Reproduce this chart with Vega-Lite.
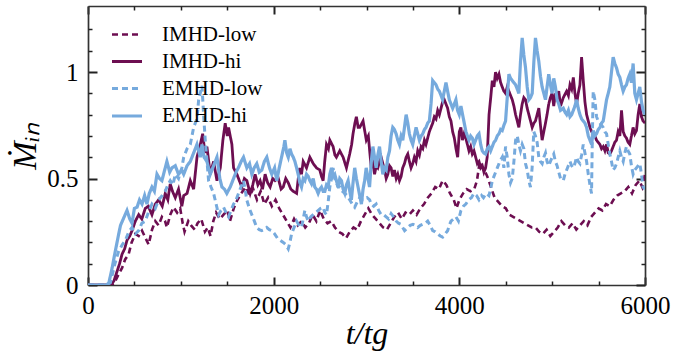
{
  "$schema": "https://vega.github.io/schema/vega-lite/v6.json",
  "width": 557,
  "height": 279,
  "autosize": {"type": "none"},
  "padding": {"left": 88, "top": 6, "right": 33, "bottom": 76},
  "background": "white",
  "config": {
    "font": "Liberation Serif",
    "view": {"stroke": null},
    "axis": {"grid": false, "domainColor": "#333333", "domainWidth": 1.7, "tickColor": "#222222", "labelColor": "#000000", "titleColor": "#000000", "titleFontWeight": "normal"}
  },
  "data": {"values": [
    {"s":"IMHD-low","t":0,"v":0},{"s":"IMHD-low","t":100,"v":0},{"s":"IMHD-low","t":200,"v":0},{"s":"IMHD-low","t":260,"v":0},{"s":"IMHD-low","t":295,"v":0.02},{"s":"IMHD-low","t":330,"v":0.05},{"s":"IMHD-low","t":367,"v":0.08},{"s":"IMHD-low","t":400,"v":0.12},{"s":"IMHD-low","t":438,"v":0.145},{"s":"IMHD-low","t":470,"v":0.2},{"s":"IMHD-low","t":510,"v":0.24},{"s":"IMHD-low","t":546,"v":0.23},{"s":"IMHD-low","t":582,"v":0.255},{"s":"IMHD-low","t":620,"v":0.22},{"s":"IMHD-low","t":653,"v":0.19},{"s":"IMHD-low","t":690,"v":0.26},{"s":"IMHD-low","t":725,"v":0.3},{"s":"IMHD-low","t":760,"v":0.28},{"s":"IMHD-low","t":796,"v":0.32},{"s":"IMHD-low","t":830,"v":0.3},{"s":"IMHD-low","t":850,"v":0.27},{"s":"IMHD-low","t":886,"v":0.33},{"s":"IMHD-low","t":922,"v":0.365},{"s":"IMHD-low","t":960,"v":0.34},{"s":"IMHD-low","t":993,"v":0.36},{"s":"IMHD-low","t":1020,"v":0.29},{"s":"IMHD-low","t":1040,"v":0.25},{"s":"IMHD-low","t":1080,"v":0.3},{"s":"IMHD-low","t":1110,"v":0.28},{"s":"IMHD-low","t":1150,"v":0.26},{"s":"IMHD-low","t":1180,"v":0.29},{"s":"IMHD-low","t":1220,"v":0.31},{"s":"IMHD-low","t":1260,"v":0.25},{"s":"IMHD-low","t":1290,"v":0.27},{"s":"IMHD-low","t":1320,"v":0.23},{"s":"IMHD-low","t":1350,"v":0.3},{"s":"IMHD-low","t":1380,"v":0.34},{"s":"IMHD-low","t":1420,"v":0.31},{"s":"IMHD-low","t":1460,"v":0.33},{"s":"IMHD-low","t":1500,"v":0.35},{"s":"IMHD-low","t":1530,"v":0.3},{"s":"IMHD-low","t":1570,"v":0.36},{"s":"IMHD-low","t":1610,"v":0.4},{"s":"IMHD-low","t":1650,"v":0.43},{"s":"IMHD-low","t":1700,"v":0.46},{"s":"IMHD-low","t":1740,"v":0.42},{"s":"IMHD-low","t":1780,"v":0.45},{"s":"IMHD-low","t":1820,"v":0.4},{"s":"IMHD-low","t":1860,"v":0.44},{"s":"IMHD-low","t":1900,"v":0.38},{"s":"IMHD-low","t":1940,"v":0.41},{"s":"IMHD-low","t":1980,"v":0.37},{"s":"IMHD-low","t":2020,"v":0.4},{"s":"IMHD-low","t":2060,"v":0.36},{"s":"IMHD-low","t":2100,"v":0.33},{"s":"IMHD-low","t":2140,"v":0.3},{"s":"IMHD-low","t":2180,"v":0.27},{"s":"IMHD-low","t":2220,"v":0.31},{"s":"IMHD-low","t":2260,"v":0.28},{"s":"IMHD-low","t":2300,"v":0.3},{"s":"IMHD-low","t":2340,"v":0.27},{"s":"IMHD-low","t":2380,"v":0.29},{"s":"IMHD-low","t":2420,"v":0.33},{"s":"IMHD-low","t":2460,"v":0.3},{"s":"IMHD-low","t":2500,"v":0.35},{"s":"IMHD-low","t":2540,"v":0.31},{"s":"IMHD-low","t":2580,"v":0.29},{"s":"IMHD-low","t":2620,"v":0.3},{"s":"IMHD-low","t":2660,"v":0.27},{"s":"IMHD-low","t":2700,"v":0.25},{"s":"IMHD-low","t":2740,"v":0.24},{"s":"IMHD-low","t":2780,"v":0.22},{"s":"IMHD-low","t":2820,"v":0.25},{"s":"IMHD-low","t":2860,"v":0.27},{"s":"IMHD-low","t":2900,"v":0.26},{"s":"IMHD-low","t":2940,"v":0.3},{"s":"IMHD-low","t":2980,"v":0.33},{"s":"IMHD-low","t":3020,"v":0.36},{"s":"IMHD-low","t":3060,"v":0.33},{"s":"IMHD-low","t":3100,"v":0.31},{"s":"IMHD-low","t":3140,"v":0.29},{"s":"IMHD-low","t":3180,"v":0.27},{"s":"IMHD-low","t":3220,"v":0.26},{"s":"IMHD-low","t":3260,"v":0.29},{"s":"IMHD-low","t":3300,"v":0.32},{"s":"IMHD-low","t":3340,"v":0.34},{"s":"IMHD-low","t":3380,"v":0.31},{"s":"IMHD-low","t":3420,"v":0.34},{"s":"IMHD-low","t":3460,"v":0.33},{"s":"IMHD-low","t":3500,"v":0.35},{"s":"IMHD-low","t":3540,"v":0.33},{"s":"IMHD-low","t":3580,"v":0.36},{"s":"IMHD-low","t":3620,"v":0.38},{"s":"IMHD-low","t":3660,"v":0.41},{"s":"IMHD-low","t":3700,"v":0.43},{"s":"IMHD-low","t":3740,"v":0.46},{"s":"IMHD-low","t":3780,"v":0.45},{"s":"IMHD-low","t":3820,"v":0.49},{"s":"IMHD-low","t":3860,"v":0.47},{"s":"IMHD-low","t":3900,"v":0.43},{"s":"IMHD-low","t":3940,"v":0.4},{"s":"IMHD-low","t":3970,"v":0.36},{"s":"IMHD-low","t":4000,"v":0.4},{"s":"IMHD-low","t":4040,"v":0.43},{"s":"IMHD-low","t":4080,"v":0.45},{"s":"IMHD-low","t":4120,"v":0.44},{"s":"IMHD-low","t":4160,"v":0.45},{"s":"IMHD-low","t":4190,"v":0.49},{"s":"IMHD-low","t":4220,"v":0.58},{"s":"IMHD-low","t":4250,"v":0.55},{"s":"IMHD-low","t":4280,"v":0.53},{"s":"IMHD-low","t":4310,"v":0.5},{"s":"IMHD-low","t":4340,"v":0.46},{"s":"IMHD-low","t":4380,"v":0.41},{"s":"IMHD-low","t":4420,"v":0.39},{"s":"IMHD-low","t":4460,"v":0.37},{"s":"IMHD-low","t":4500,"v":0.36},{"s":"IMHD-low","t":4540,"v":0.33},{"s":"IMHD-low","t":4580,"v":0.32},{"s":"IMHD-low","t":4620,"v":0.31},{"s":"IMHD-low","t":4660,"v":0.3},{"s":"IMHD-low","t":4700,"v":0.29},{"s":"IMHD-low","t":4740,"v":0.28},{"s":"IMHD-low","t":4780,"v":0.27},{"s":"IMHD-low","t":4820,"v":0.27},{"s":"IMHD-low","t":4860,"v":0.25},{"s":"IMHD-low","t":4900,"v":0.24},{"s":"IMHD-low","t":4940,"v":0.26},{"s":"IMHD-low","t":4980,"v":0.23},{"s":"IMHD-low","t":5020,"v":0.25},{"s":"IMHD-low","t":5060,"v":0.27},{"s":"IMHD-low","t":5100,"v":0.3},{"s":"IMHD-low","t":5140,"v":0.28},{"s":"IMHD-low","t":5180,"v":0.27},{"s":"IMHD-low","t":5220,"v":0.29},{"s":"IMHD-low","t":5260,"v":0.26},{"s":"IMHD-low","t":5300,"v":0.28},{"s":"IMHD-low","t":5340,"v":0.3},{"s":"IMHD-low","t":5380,"v":0.28},{"s":"IMHD-low","t":5420,"v":0.32},{"s":"IMHD-low","t":5460,"v":0.34},{"s":"IMHD-low","t":5500,"v":0.36},{"s":"IMHD-low","t":5540,"v":0.35},{"s":"IMHD-low","t":5580,"v":0.38},{"s":"IMHD-low","t":5620,"v":0.37},{"s":"IMHD-low","t":5660,"v":0.4},{"s":"IMHD-low","t":5700,"v":0.42},{"s":"IMHD-low","t":5740,"v":0.43},{"s":"IMHD-low","t":5780,"v":0.44},{"s":"IMHD-low","t":5820,"v":0.46},{"s":"IMHD-low","t":5860,"v":0.43},{"s":"IMHD-low","t":5900,"v":0.47},{"s":"IMHD-low","t":5940,"v":0.49},{"s":"IMHD-low","t":5970,"v":0.46},{"s":"IMHD-low","t":6000,"v":0.52},
    {"s":"IMHD-hi","t":0,"v":0},{"s":"IMHD-hi","t":100,"v":0},{"s":"IMHD-hi","t":200,"v":0},{"s":"IMHD-hi","t":250,"v":0},{"s":"IMHD-hi","t":280,"v":0.02},{"s":"IMHD-hi","t":310,"v":0.06},{"s":"IMHD-hi","t":340,"v":0.1},{"s":"IMHD-hi","t":367,"v":0.145},{"s":"IMHD-hi","t":395,"v":0.17},{"s":"IMHD-hi","t":420,"v":0.21},{"s":"IMHD-hi","t":450,"v":0.23},{"s":"IMHD-hi","t":474,"v":0.255},{"s":"IMHD-hi","t":510,"v":0.3},{"s":"IMHD-hi","t":546,"v":0.33},{"s":"IMHD-hi","t":580,"v":0.31},{"s":"IMHD-hi","t":617,"v":0.36},{"s":"IMHD-hi","t":650,"v":0.37},{"s":"IMHD-hi","t":689,"v":0.33},{"s":"IMHD-hi","t":725,"v":0.38},{"s":"IMHD-hi","t":761,"v":0.4},{"s":"IMHD-hi","t":800,"v":0.37},{"s":"IMHD-hi","t":832,"v":0.43},{"s":"IMHD-hi","t":860,"v":0.4},{"s":"IMHD-hi","t":886,"v":0.475},{"s":"IMHD-hi","t":910,"v":0.44},{"s":"IMHD-hi","t":940,"v":0.41},{"s":"IMHD-hi","t":975,"v":0.45},{"s":"IMHD-hi","t":1011,"v":0.37},{"s":"IMHD-hi","t":1031,"v":0.42},{"s":"IMHD-hi","t":1067,"v":0.43},{"s":"IMHD-hi","t":1102,"v":0.49},{"s":"IMHD-hi","t":1138,"v":0.45},{"s":"IMHD-hi","t":1174,"v":0.6},{"s":"IMHD-hi","t":1210,"v":0.66},{"s":"IMHD-hi","t":1235,"v":0.71},{"s":"IMHD-hi","t":1260,"v":0.62},{"s":"IMHD-hi","t":1281,"v":0.65},{"s":"IMHD-hi","t":1317,"v":0.52},{"s":"IMHD-hi","t":1353,"v":0.58},{"s":"IMHD-hi","t":1389,"v":0.49},{"s":"IMHD-hi","t":1425,"v":0.55},{"s":"IMHD-hi","t":1453,"v":0.68},{"s":"IMHD-hi","t":1478,"v":0.76},{"s":"IMHD-hi","t":1500,"v":0.7},{"s":"IMHD-hi","t":1514,"v":0.74},{"s":"IMHD-hi","t":1550,"v":0.66},{"s":"IMHD-hi","t":1568,"v":0.55},{"s":"IMHD-hi","t":1604,"v":0.52},{"s":"IMHD-hi","t":1630,"v":0.49},{"s":"IMHD-hi","t":1657,"v":0.46},{"s":"IMHD-hi","t":1685,"v":0.5},{"s":"IMHD-hi","t":1711,"v":0.49},{"s":"IMHD-hi","t":1747,"v":0.43},{"s":"IMHD-hi","t":1775,"v":0.47},{"s":"IMHD-hi","t":1800,"v":0.52},{"s":"IMHD-hi","t":1830,"v":0.47},{"s":"IMHD-hi","t":1854,"v":0.49},{"s":"IMHD-hi","t":1880,"v":0.45},{"s":"IMHD-hi","t":1908,"v":0.52},{"s":"IMHD-hi","t":1935,"v":0.48},{"s":"IMHD-hi","t":1962,"v":0.46},{"s":"IMHD-hi","t":1990,"v":0.5},{"s":"IMHD-hi","t":2015,"v":0.49},{"s":"IMHD-hi","t":2050,"v":0.5},{"s":"IMHD-hi","t":2080,"v":0.45},{"s":"IMHD-hi","t":2103,"v":0.46},{"s":"IMHD-hi","t":2130,"v":0.5},{"s":"IMHD-hi","t":2157,"v":0.48},{"s":"IMHD-hi","t":2185,"v":0.45},{"s":"IMHD-hi","t":2211,"v":0.44},{"s":"IMHD-hi","t":2247,"v":0.43},{"s":"IMHD-hi","t":2265,"v":0.5},{"s":"IMHD-hi","t":2282,"v":0.55},{"s":"IMHD-hi","t":2300,"v":0.52},{"s":"IMHD-hi","t":2318,"v":0.58},{"s":"IMHD-hi","t":2354,"v":0.55},{"s":"IMHD-hi","t":2390,"v":0.6},{"s":"IMHD-hi","t":2426,"v":0.57},{"s":"IMHD-hi","t":2461,"v":0.55},{"s":"IMHD-hi","t":2497,"v":0.54},{"s":"IMHD-hi","t":2515,"v":0.51},{"s":"IMHD-hi","t":2533,"v":0.49},{"s":"IMHD-hi","t":2550,"v":0.58},{"s":"IMHD-hi","t":2569,"v":0.66},{"s":"IMHD-hi","t":2590,"v":0.64},{"s":"IMHD-hi","t":2605,"v":0.68},{"s":"IMHD-hi","t":2640,"v":0.65},{"s":"IMHD-hi","t":2660,"v":0.61},{"s":"IMHD-hi","t":2676,"v":0.6},{"s":"IMHD-hi","t":2712,"v":0.63},{"s":"IMHD-hi","t":2748,"v":0.6},{"s":"IMHD-hi","t":2784,"v":0.55},{"s":"IMHD-hi","t":2800,"v":0.58},{"s":"IMHD-hi","t":2819,"v":0.615},{"s":"IMHD-hi","t":2840,"v":0.66},{"s":"IMHD-hi","t":2855,"v":0.71},{"s":"IMHD-hi","t":2875,"v":0.76},{"s":"IMHD-hi","t":2891,"v":0.79},{"s":"IMHD-hi","t":2910,"v":0.74},{"s":"IMHD-hi","t":2927,"v":0.74},{"s":"IMHD-hi","t":2963,"v":0.77},{"s":"IMHD-hi","t":2998,"v":0.68},{"s":"IMHD-hi","t":3020,"v":0.7},{"s":"IMHD-hi","t":3034,"v":0.63},{"s":"IMHD-hi","t":3051,"v":0.55},{"s":"IMHD-hi","t":3070,"v":0.57},{"s":"IMHD-hi","t":3087,"v":0.52},{"s":"IMHD-hi","t":3105,"v":0.56},{"s":"IMHD-hi","t":3122,"v":0.55},{"s":"IMHD-hi","t":3140,"v":0.58},{"s":"IMHD-hi","t":3158,"v":0.6},{"s":"IMHD-hi","t":3176,"v":0.57},{"s":"IMHD-hi","t":3194,"v":0.54},{"s":"IMHD-hi","t":3212,"v":0.5},{"s":"IMHD-hi","t":3230,"v":0.52},{"s":"IMHD-hi","t":3248,"v":0.56},{"s":"IMHD-hi","t":3265,"v":0.55},{"s":"IMHD-hi","t":3283,"v":0.51},{"s":"IMHD-hi","t":3301,"v":0.54},{"s":"IMHD-hi","t":3320,"v":0.5},{"s":"IMHD-hi","t":3337,"v":0.52},{"s":"IMHD-hi","t":3355,"v":0.49},{"s":"IMHD-hi","t":3373,"v":0.51},{"s":"IMHD-hi","t":3390,"v":0.55},{"s":"IMHD-hi","t":3409,"v":0.57},{"s":"IMHD-hi","t":3427,"v":0.6},{"s":"IMHD-hi","t":3445,"v":0.615},{"s":"IMHD-hi","t":3462,"v":0.58},{"s":"IMHD-hi","t":3480,"v":0.55},{"s":"IMHD-hi","t":3498,"v":0.57},{"s":"IMHD-hi","t":3516,"v":0.6},{"s":"IMHD-hi","t":3534,"v":0.58},{"s":"IMHD-hi","t":3552,"v":0.63},{"s":"IMHD-hi","t":3570,"v":0.61},{"s":"IMHD-hi","t":3588,"v":0.65},{"s":"IMHD-hi","t":3606,"v":0.64},{"s":"IMHD-hi","t":3624,"v":0.68},{"s":"IMHD-hi","t":3641,"v":0.66},{"s":"IMHD-hi","t":3659,"v":0.69},{"s":"IMHD-hi","t":3677,"v":0.72},{"s":"IMHD-hi","t":3695,"v":0.74},{"s":"IMHD-hi","t":3713,"v":0.76},{"s":"IMHD-hi","t":3731,"v":0.79},{"s":"IMHD-hi","t":3749,"v":0.78},{"s":"IMHD-hi","t":3767,"v":0.82},{"s":"IMHD-hi","t":3785,"v":0.8},{"s":"IMHD-hi","t":3803,"v":0.83},{"s":"IMHD-hi","t":3820,"v":0.86},{"s":"IMHD-hi","t":3838,"v":0.87},{"s":"IMHD-hi","t":3856,"v":0.85},{"s":"IMHD-hi","t":3874,"v":0.83},{"s":"IMHD-hi","t":3892,"v":0.79},{"s":"IMHD-hi","t":3910,"v":0.77},{"s":"IMHD-hi","t":3928,"v":0.72},{"s":"IMHD-hi","t":3946,"v":0.69},{"s":"IMHD-hi","t":3964,"v":0.64},{"s":"IMHD-hi","t":3982,"v":0.6},{"s":"IMHD-hi","t":4000,"v":0.72},{"s":"IMHD-hi","t":4017,"v":0.74},{"s":"IMHD-hi","t":4033,"v":0.68},{"s":"IMHD-hi","t":4051,"v":0.71},{"s":"IMHD-hi","t":4069,"v":0.69},{"s":"IMHD-hi","t":4087,"v":0.66},{"s":"IMHD-hi","t":4104,"v":0.63},{"s":"IMHD-hi","t":4122,"v":0.65},{"s":"IMHD-hi","t":4140,"v":0.615},{"s":"IMHD-hi","t":4158,"v":0.63},{"s":"IMHD-hi","t":4176,"v":0.6},{"s":"IMHD-hi","t":4194,"v":0.57},{"s":"IMHD-hi","t":4212,"v":0.58},{"s":"IMHD-hi","t":4230,"v":0.55},{"s":"IMHD-hi","t":4247,"v":0.56},{"s":"IMHD-hi","t":4265,"v":0.53},{"s":"IMHD-hi","t":4283,"v":0.55},{"s":"IMHD-hi","t":4300,"v":0.6},{"s":"IMHD-hi","t":4310,"v":0.7},{"s":"IMHD-hi","t":4320,"v":0.8},{"s":"IMHD-hi","t":4338,"v":0.88},{"s":"IMHD-hi","t":4355,"v":0.96},{"s":"IMHD-hi","t":4373,"v":0.93},{"s":"IMHD-hi","t":4390,"v":1.0},{"s":"IMHD-hi","t":4408,"v":0.97},{"s":"IMHD-hi","t":4427,"v":0.99},{"s":"IMHD-hi","t":4445,"v":0.95},{"s":"IMHD-hi","t":4462,"v":0.93},{"s":"IMHD-hi","t":4480,"v":0.91},{"s":"IMHD-hi","t":4498,"v":0.9},{"s":"IMHD-hi","t":4516,"v":0.93},{"s":"IMHD-hi","t":4534,"v":0.91},{"s":"IMHD-hi","t":4552,"v":0.89},{"s":"IMHD-hi","t":4570,"v":0.87},{"s":"IMHD-hi","t":4588,"v":0.84},{"s":"IMHD-hi","t":4606,"v":0.8},{"s":"IMHD-hi","t":4624,"v":0.77},{"s":"IMHD-hi","t":4641,"v":0.74},{"s":"IMHD-hi","t":4659,"v":0.8},{"s":"IMHD-hi","t":4677,"v":0.85},{"s":"IMHD-hi","t":4695,"v":0.88},{"s":"IMHD-hi","t":4713,"v":0.87},{"s":"IMHD-hi","t":4731,"v":0.83},{"s":"IMHD-hi","t":4749,"v":0.8},{"s":"IMHD-hi","t":4767,"v":0.77},{"s":"IMHD-hi","t":4785,"v":0.74},{"s":"IMHD-hi","t":4803,"v":0.76},{"s":"IMHD-hi","t":4820,"v":0.77},{"s":"IMHD-hi","t":4838,"v":0.8},{"s":"IMHD-hi","t":4856,"v":0.83},{"s":"IMHD-hi","t":4874,"v":0.75},{"s":"IMHD-hi","t":4892,"v":0.68},{"s":"IMHD-hi","t":4910,"v":0.72},{"s":"IMHD-hi","t":4928,"v":0.76},{"s":"IMHD-hi","t":4945,"v":0.8},{"s":"IMHD-hi","t":4963,"v":0.85},{"s":"IMHD-hi","t":4981,"v":0.88},{"s":"IMHD-hi","t":4999,"v":0.9},{"s":"IMHD-hi","t":5017,"v":0.84},{"s":"IMHD-hi","t":5035,"v":0.9},{"s":"IMHD-hi","t":5053,"v":0.88},{"s":"IMHD-hi","t":5071,"v":0.91},{"s":"IMHD-hi","t":5090,"v":0.84},{"s":"IMHD-hi","t":5120,"v":0.88},{"s":"IMHD-hi","t":5156,"v":0.91},{"s":"IMHD-hi","t":5175,"v":0.89},{"s":"IMHD-hi","t":5192,"v":0.94},{"s":"IMHD-hi","t":5210,"v":0.92},{"s":"IMHD-hi","t":5228,"v":0.975},{"s":"IMHD-hi","t":5245,"v":0.9},{"s":"IMHD-hi","t":5263,"v":0.85},{"s":"IMHD-hi","t":5281,"v":0.9},{"s":"IMHD-hi","t":5299,"v":0.94},{"s":"IMHD-hi","t":5317,"v":1.07},{"s":"IMHD-hi","t":5335,"v":0.96},{"s":"IMHD-hi","t":5353,"v":0.86},{"s":"IMHD-hi","t":5371,"v":0.8},{"s":"IMHD-hi","t":5389,"v":0.77},{"s":"IMHD-hi","t":5407,"v":0.74},{"s":"IMHD-hi","t":5425,"v":0.72},{"s":"IMHD-hi","t":5442,"v":0.71},{"s":"IMHD-hi","t":5460,"v":0.7},{"s":"IMHD-hi","t":5478,"v":0.68},{"s":"IMHD-hi","t":5496,"v":0.67},{"s":"IMHD-hi","t":5514,"v":0.66},{"s":"IMHD-hi","t":5532,"v":0.64},{"s":"IMHD-hi","t":5550,"v":0.65},{"s":"IMHD-hi","t":5568,"v":0.63},{"s":"IMHD-hi","t":5586,"v":0.66},{"s":"IMHD-hi","t":5604,"v":0.62},{"s":"IMHD-hi","t":5621,"v":0.615},{"s":"IMHD-hi","t":5639,"v":0.63},{"s":"IMHD-hi","t":5657,"v":0.65},{"s":"IMHD-hi","t":5675,"v":0.67},{"s":"IMHD-hi","t":5693,"v":0.68},{"s":"IMHD-hi","t":5711,"v":0.72},{"s":"IMHD-hi","t":5729,"v":0.7},{"s":"IMHD-hi","t":5747,"v":0.82},{"s":"IMHD-hi","t":5765,"v":0.72},{"s":"IMHD-hi","t":5783,"v":0.7},{"s":"IMHD-hi","t":5800,"v":0.69},{"s":"IMHD-hi","t":5818,"v":0.67},{"s":"IMHD-hi","t":5836,"v":0.66},{"s":"IMHD-hi","t":5854,"v":0.7},{"s":"IMHD-hi","t":5872,"v":0.74},{"s":"IMHD-hi","t":5890,"v":0.71},{"s":"IMHD-hi","t":5908,"v":0.725},{"s":"IMHD-hi","t":5926,"v":0.8},{"s":"IMHD-hi","t":5944,"v":0.85},{"s":"IMHD-hi","t":5962,"v":0.79},{"s":"IMHD-hi","t":5979,"v":0.77},{"s":"IMHD-hi","t":6000,"v":0.76},
    {"s":"EMHD-low","t":0,"v":0},{"s":"EMHD-low","t":100,"v":0},{"s":"EMHD-low","t":200,"v":0},{"s":"EMHD-low","t":241,"v":0.01},{"s":"EMHD-low","t":290,"v":0.1},{"s":"EMHD-low","t":331,"v":0.16},{"s":"EMHD-low","t":370,"v":0.19},{"s":"EMHD-low","t":403,"v":0.21},{"s":"EMHD-low","t":440,"v":0.25},{"s":"EMHD-low","t":474,"v":0.27},{"s":"EMHD-low","t":510,"v":0.24},{"s":"EMHD-low","t":546,"v":0.255},{"s":"EMHD-low","t":580,"v":0.29},{"s":"EMHD-low","t":617,"v":0.3},{"s":"EMHD-low","t":650,"v":0.34},{"s":"EMHD-low","t":689,"v":0.38},{"s":"EMHD-low","t":725,"v":0.36},{"s":"EMHD-low","t":761,"v":0.4},{"s":"EMHD-low","t":800,"v":0.42},{"s":"EMHD-low","t":832,"v":0.44},{"s":"EMHD-low","t":860,"v":0.47},{"s":"EMHD-low","t":886,"v":0.49},{"s":"EMHD-low","t":915,"v":0.47},{"s":"EMHD-low","t":940,"v":0.52},{"s":"EMHD-low","t":975,"v":0.5},{"s":"EMHD-low","t":1011,"v":0.55},{"s":"EMHD-low","t":1031,"v":0.6},{"s":"EMHD-low","t":1067,"v":0.64},{"s":"EMHD-low","t":1102,"v":0.66},{"s":"EMHD-low","t":1138,"v":0.74},{"s":"EMHD-low","t":1174,"v":0.78},{"s":"EMHD-low","t":1192,"v":0.87},{"s":"EMHD-low","t":1228,"v":0.935},{"s":"EMHD-low","t":1245,"v":0.8},{"s":"EMHD-low","t":1263,"v":0.68},{"s":"EMHD-low","t":1299,"v":0.49},{"s":"EMHD-low","t":1325,"v":0.46},{"s":"EMHD-low","t":1353,"v":0.43},{"s":"EMHD-low","t":1380,"v":0.38},{"s":"EMHD-low","t":1407,"v":0.33},{"s":"EMHD-low","t":1433,"v":0.35},{"s":"EMHD-low","t":1460,"v":0.365},{"s":"EMHD-low","t":1487,"v":0.34},{"s":"EMHD-low","t":1514,"v":0.32},{"s":"EMHD-low","t":1541,"v":0.35},{"s":"EMHD-low","t":1568,"v":0.38},{"s":"EMHD-low","t":1595,"v":0.4},{"s":"EMHD-low","t":1621,"v":0.43},{"s":"EMHD-low","t":1648,"v":0.46},{"s":"EMHD-low","t":1675,"v":0.49},{"s":"EMHD-low","t":1692,"v":0.45},{"s":"EMHD-low","t":1710,"v":0.4},{"s":"EMHD-low","t":1738,"v":0.36},{"s":"EMHD-low","t":1765,"v":0.33},{"s":"EMHD-low","t":1792,"v":0.3},{"s":"EMHD-low","t":1818,"v":0.27},{"s":"EMHD-low","t":1845,"v":0.26},{"s":"EMHD-low","t":1872,"v":0.255},{"s":"EMHD-low","t":1899,"v":0.26},{"s":"EMHD-low","t":1926,"v":0.27},{"s":"EMHD-low","t":1953,"v":0.26},{"s":"EMHD-low","t":1980,"v":0.255},{"s":"EMHD-low","t":2010,"v":0.24},{"s":"EMHD-low","t":2040,"v":0.22},{"s":"EMHD-low","t":2070,"v":0.21},{"s":"EMHD-low","t":2103,"v":0.2},{"s":"EMHD-low","t":2130,"v":0.19},{"s":"EMHD-low","t":2157,"v":0.17},{"s":"EMHD-low","t":2175,"v":0.2},{"s":"EMHD-low","t":2193,"v":0.24},{"s":"EMHD-low","t":2220,"v":0.27},{"s":"EMHD-low","t":2247,"v":0.3},{"s":"EMHD-low","t":2273,"v":0.28},{"s":"EMHD-low","t":2300,"v":0.27},{"s":"EMHD-low","t":2318,"v":0.31},{"s":"EMHD-low","t":2336,"v":0.35},{"s":"EMHD-low","t":2354,"v":0.32},{"s":"EMHD-low","t":2372,"v":0.3},{"s":"EMHD-low","t":2400,"v":0.32},{"s":"EMHD-low","t":2426,"v":0.33},{"s":"EMHD-low","t":2453,"v":0.34},{"s":"EMHD-low","t":2480,"v":0.35},{"s":"EMHD-low","t":2506,"v":0.36},{"s":"EMHD-low","t":2533,"v":0.365},{"s":"EMHD-low","t":2551,"v":0.34},{"s":"EMHD-low","t":2569,"v":0.33},{"s":"EMHD-low","t":2587,"v":0.39},{"s":"EMHD-low","t":2605,"v":0.46},{"s":"EMHD-low","t":2623,"v":0.5},{"s":"EMHD-low","t":2640,"v":0.55},{"s":"EMHD-low","t":2658,"v":0.5},{"s":"EMHD-low","t":2676,"v":0.48},{"s":"EMHD-low","t":2694,"v":0.46},{"s":"EMHD-low","t":2712,"v":0.46},{"s":"EMHD-low","t":2740,"v":0.44},{"s":"EMHD-low","t":2766,"v":0.43},{"s":"EMHD-low","t":2792,"v":0.42},{"s":"EMHD-low","t":2819,"v":0.4},{"s":"EMHD-low","t":2846,"v":0.38},{"s":"EMHD-low","t":2873,"v":0.365},{"s":"EMHD-low","t":2900,"v":0.39},{"s":"EMHD-low","t":2927,"v":0.41},{"s":"EMHD-low","t":2953,"v":0.4},{"s":"EMHD-low","t":2980,"v":0.4},{"s":"EMHD-low","t":3007,"v":0.41},{"s":"EMHD-low","t":3034,"v":0.4},{"s":"EMHD-low","t":3050,"v":0.38},{"s":"EMHD-low","t":3077,"v":0.37},{"s":"EMHD-low","t":3104,"v":0.38},{"s":"EMHD-low","t":3131,"v":0.35},{"s":"EMHD-low","t":3158,"v":0.33},{"s":"EMHD-low","t":3185,"v":0.33},{"s":"EMHD-low","t":3212,"v":0.32},{"s":"EMHD-low","t":3238,"v":0.31},{"s":"EMHD-low","t":3265,"v":0.335},{"s":"EMHD-low","t":3292,"v":0.32},{"s":"EMHD-low","t":3320,"v":0.3},{"s":"EMHD-low","t":3345,"v":0.29},{"s":"EMHD-low","t":3370,"v":0.285},{"s":"EMHD-low","t":3390,"v":0.27},{"s":"EMHD-low","t":3410,"v":0.255},{"s":"EMHD-low","t":3445,"v":0.27},{"s":"EMHD-low","t":3470,"v":0.28},{"s":"EMHD-low","t":3500,"v":0.285},{"s":"EMHD-low","t":3526,"v":0.28},{"s":"EMHD-low","t":3552,"v":0.27},{"s":"EMHD-low","t":3580,"v":0.28},{"s":"EMHD-low","t":3606,"v":0.285},{"s":"EMHD-low","t":3632,"v":0.29},{"s":"EMHD-low","t":3659,"v":0.3},{"s":"EMHD-low","t":3686,"v":0.28},{"s":"EMHD-low","t":3713,"v":0.255},{"s":"EMHD-low","t":3740,"v":0.25},{"s":"EMHD-low","t":3767,"v":0.24},{"s":"EMHD-low","t":3795,"v":0.23},{"s":"EMHD-low","t":3820,"v":0.225},{"s":"EMHD-low","t":3847,"v":0.24},{"s":"EMHD-low","t":3874,"v":0.255},{"s":"EMHD-low","t":3892,"v":0.28},{"s":"EMHD-low","t":3910,"v":0.3},{"s":"EMHD-low","t":3937,"v":0.31},{"s":"EMHD-low","t":3963,"v":0.32},{"s":"EMHD-low","t":3990,"v":0.3},{"s":"EMHD-low","t":4017,"v":0.35},{"s":"EMHD-low","t":4044,"v":0.37},{"s":"EMHD-low","t":4070,"v":0.38},{"s":"EMHD-low","t":4100,"v":0.4},{"s":"EMHD-low","t":4130,"v":0.41},{"s":"EMHD-low","t":4157,"v":0.43},{"s":"EMHD-low","t":4185,"v":0.42},{"s":"EMHD-low","t":4212,"v":0.4},{"s":"EMHD-low","t":4240,"v":0.42},{"s":"EMHD-low","t":4260,"v":0.41},{"s":"EMHD-low","t":4290,"v":0.43},{"s":"EMHD-low","t":4319,"v":0.42},{"s":"EMHD-low","t":4337,"v":0.45},{"s":"EMHD-low","t":4355,"v":0.49},{"s":"EMHD-low","t":4382,"v":0.52},{"s":"EMHD-low","t":4409,"v":0.55},{"s":"EMHD-low","t":4436,"v":0.58},{"s":"EMHD-low","t":4462,"v":0.6},{"s":"EMHD-low","t":4480,"v":0.55},{"s":"EMHD-low","t":4498,"v":0.65},{"s":"EMHD-low","t":4516,"v":0.6},{"s":"EMHD-low","t":4534,"v":0.52},{"s":"EMHD-low","t":4552,"v":0.48},{"s":"EMHD-low","t":4570,"v":0.5},{"s":"EMHD-low","t":4588,"v":0.58},{"s":"EMHD-low","t":4606,"v":0.68},{"s":"EMHD-low","t":4624,"v":0.7},{"s":"EMHD-low","t":4641,"v":0.66},{"s":"EMHD-low","t":4659,"v":0.63},{"s":"EMHD-low","t":4677,"v":0.66},{"s":"EMHD-low","t":4695,"v":0.64},{"s":"EMHD-low","t":4713,"v":0.57},{"s":"EMHD-low","t":4731,"v":0.54},{"s":"EMHD-low","t":4749,"v":0.49},{"s":"EMHD-low","t":4766,"v":0.46},{"s":"EMHD-low","t":4784,"v":0.55},{"s":"EMHD-low","t":4802,"v":0.72},{"s":"EMHD-low","t":4820,"v":0.7},{"s":"EMHD-low","t":4838,"v":0.67},{"s":"EMHD-low","t":4856,"v":0.6},{"s":"EMHD-low","t":4874,"v":0.58},{"s":"EMHD-low","t":4892,"v":0.57},{"s":"EMHD-low","t":4910,"v":0.6},{"s":"EMHD-low","t":4928,"v":0.62},{"s":"EMHD-low","t":4945,"v":0.58},{"s":"EMHD-low","t":4963,"v":0.56},{"s":"EMHD-low","t":4981,"v":0.58},{"s":"EMHD-low","t":5000,"v":0.6},{"s":"EMHD-low","t":5017,"v":0.615},{"s":"EMHD-low","t":5035,"v":0.58},{"s":"EMHD-low","t":5053,"v":0.56},{"s":"EMHD-low","t":5071,"v":0.53},{"s":"EMHD-low","t":5090,"v":0.5},{"s":"EMHD-low","t":5120,"v":0.49},{"s":"EMHD-low","t":5138,"v":0.52},{"s":"EMHD-low","t":5156,"v":0.54},{"s":"EMHD-low","t":5174,"v":0.56},{"s":"EMHD-low","t":5192,"v":0.58},{"s":"EMHD-low","t":5210,"v":0.56},{"s":"EMHD-low","t":5228,"v":0.55},{"s":"EMHD-low","t":5245,"v":0.57},{"s":"EMHD-low","t":5263,"v":0.6},{"s":"EMHD-low","t":5281,"v":0.58},{"s":"EMHD-low","t":5299,"v":0.57},{"s":"EMHD-low","t":5317,"v":0.61},{"s":"EMHD-low","t":5335,"v":0.66},{"s":"EMHD-low","t":5353,"v":0.62},{"s":"EMHD-low","t":5371,"v":0.58},{"s":"EMHD-low","t":5389,"v":0.52},{"s":"EMHD-low","t":5407,"v":0.47},{"s":"EMHD-low","t":5424,"v":0.43},{"s":"EMHD-low","t":5433,"v":0.7},{"s":"EMHD-low","t":5442,"v":0.91},{"s":"EMHD-low","t":5460,"v":0.87},{"s":"EMHD-low","t":5478,"v":0.79},{"s":"EMHD-low","t":5496,"v":0.77},{"s":"EMHD-low","t":5514,"v":0.76},{"s":"EMHD-low","t":5532,"v":0.75},{"s":"EMHD-low","t":5550,"v":0.74},{"s":"EMHD-low","t":5568,"v":0.72},{"s":"EMHD-low","t":5586,"v":0.71},{"s":"EMHD-low","t":5604,"v":0.66},{"s":"EMHD-low","t":5621,"v":0.615},{"s":"EMHD-low","t":5639,"v":0.58},{"s":"EMHD-low","t":5657,"v":0.54},{"s":"EMHD-low","t":5675,"v":0.55},{"s":"EMHD-low","t":5693,"v":0.57},{"s":"EMHD-low","t":5711,"v":0.6},{"s":"EMHD-low","t":5729,"v":0.63},{"s":"EMHD-low","t":5747,"v":0.6},{"s":"EMHD-low","t":5765,"v":0.58},{"s":"EMHD-low","t":5783,"v":0.62},{"s":"EMHD-low","t":5800,"v":0.65},{"s":"EMHD-low","t":5818,"v":0.63},{"s":"EMHD-low","t":5836,"v":0.615},{"s":"EMHD-low","t":5854,"v":0.56},{"s":"EMHD-low","t":5872,"v":0.52},{"s":"EMHD-low","t":5890,"v":0.54},{"s":"EMHD-low","t":5908,"v":0.55},{"s":"EMHD-low","t":5926,"v":0.56},{"s":"EMHD-low","t":5944,"v":0.57},{"s":"EMHD-low","t":5962,"v":0.52},{"s":"EMHD-low","t":5979,"v":0.46},{"s":"EMHD-low","t":6000,"v":0.45},
    {"s":"EMHD-hi","t":0,"v":0},{"s":"EMHD-hi","t":100,"v":0},{"s":"EMHD-hi","t":200,"v":0},{"s":"EMHD-hi","t":225,"v":0.01},{"s":"EMHD-hi","t":260,"v":0.08},{"s":"EMHD-hi","t":290,"v":0.15},{"s":"EMHD-hi","t":331,"v":0.24},{"s":"EMHD-hi","t":350,"v":0.28},{"s":"EMHD-hi","t":370,"v":0.3},{"s":"EMHD-hi","t":400,"v":0.33},{"s":"EMHD-hi","t":420,"v":0.35},{"s":"EMHD-hi","t":450,"v":0.31},{"s":"EMHD-hi","t":474,"v":0.29},{"s":"EMHD-hi","t":500,"v":0.36},{"s":"EMHD-hi","t":528,"v":0.365},{"s":"EMHD-hi","t":555,"v":0.4},{"s":"EMHD-hi","t":582,"v":0.38},{"s":"EMHD-hi","t":610,"v":0.42},{"s":"EMHD-hi","t":635,"v":0.38},{"s":"EMHD-hi","t":660,"v":0.43},{"s":"EMHD-hi","t":689,"v":0.46},{"s":"EMHD-hi","t":715,"v":0.44},{"s":"EMHD-hi","t":743,"v":0.52},{"s":"EMHD-hi","t":770,"v":0.5},{"s":"EMHD-hi","t":796,"v":0.49},{"s":"EMHD-hi","t":820,"v":0.53},{"s":"EMHD-hi","t":850,"v":0.58},{"s":"EMHD-hi","t":880,"v":0.53},{"s":"EMHD-hi","t":904,"v":0.55},{"s":"EMHD-hi","t":940,"v":0.56},{"s":"EMHD-hi","t":975,"v":0.52},{"s":"EMHD-hi","t":1010,"v":0.54},{"s":"EMHD-hi","t":1031,"v":0.52},{"s":"EMHD-hi","t":1067,"v":0.56},{"s":"EMHD-hi","t":1102,"v":0.58},{"s":"EMHD-hi","t":1138,"v":0.62},{"s":"EMHD-hi","t":1174,"v":0.66},{"s":"EMHD-hi","t":1210,"v":0.6},{"s":"EMHD-hi","t":1228,"v":0.66},{"s":"EMHD-hi","t":1250,"v":0.6},{"s":"EMHD-hi","t":1281,"v":0.58},{"s":"EMHD-hi","t":1317,"v":0.52},{"s":"EMHD-hi","t":1353,"v":0.56},{"s":"EMHD-hi","t":1389,"v":0.6},{"s":"EMHD-hi","t":1420,"v":0.5},{"s":"EMHD-hi","t":1443,"v":0.46},{"s":"EMHD-hi","t":1470,"v":0.45},{"s":"EMHD-hi","t":1495,"v":0.43},{"s":"EMHD-hi","t":1532,"v":0.46},{"s":"EMHD-hi","t":1568,"v":0.5},{"s":"EMHD-hi","t":1595,"v":0.53},{"s":"EMHD-hi","t":1620,"v":0.55},{"s":"EMHD-hi","t":1650,"v":0.58},{"s":"EMHD-hi","t":1675,"v":0.6},{"s":"EMHD-hi","t":1711,"v":0.55},{"s":"EMHD-hi","t":1740,"v":0.57},{"s":"EMHD-hi","t":1765,"v":0.52},{"s":"EMHD-hi","t":1790,"v":0.55},{"s":"EMHD-hi","t":1818,"v":0.57},{"s":"EMHD-hi","t":1845,"v":0.53},{"s":"EMHD-hi","t":1872,"v":0.54},{"s":"EMHD-hi","t":1900,"v":0.58},{"s":"EMHD-hi","t":1926,"v":0.6},{"s":"EMHD-hi","t":1955,"v":0.55},{"s":"EMHD-hi","t":1980,"v":0.52},{"s":"EMHD-hi","t":2010,"v":0.55},{"s":"EMHD-hi","t":2033,"v":0.49},{"s":"EMHD-hi","t":2060,"v":0.55},{"s":"EMHD-hi","t":2085,"v":0.6},{"s":"EMHD-hi","t":2110,"v":0.65},{"s":"EMHD-hi","t":2121,"v":0.68},{"s":"EMHD-hi","t":2140,"v":0.62},{"s":"EMHD-hi","t":2157,"v":0.6},{"s":"EMHD-hi","t":2175,"v":0.64},{"s":"EMHD-hi","t":2193,"v":0.615},{"s":"EMHD-hi","t":2211,"v":0.6},{"s":"EMHD-hi","t":2229,"v":0.58},{"s":"EMHD-hi","t":2247,"v":0.55},{"s":"EMHD-hi","t":2264,"v":0.52},{"s":"EMHD-hi","t":2282,"v":0.48},{"s":"EMHD-hi","t":2300,"v":0.46},{"s":"EMHD-hi","t":2318,"v":0.5},{"s":"EMHD-hi","t":2336,"v":0.49},{"s":"EMHD-hi","t":2354,"v":0.52},{"s":"EMHD-hi","t":2372,"v":0.51},{"s":"EMHD-hi","t":2390,"v":0.49},{"s":"EMHD-hi","t":2408,"v":0.475},{"s":"EMHD-hi","t":2426,"v":0.5},{"s":"EMHD-hi","t":2443,"v":0.46},{"s":"EMHD-hi","t":2461,"v":0.45},{"s":"EMHD-hi","t":2479,"v":0.43},{"s":"EMHD-hi","t":2497,"v":0.45},{"s":"EMHD-hi","t":2515,"v":0.46},{"s":"EMHD-hi","t":2533,"v":0.44},{"s":"EMHD-hi","t":2551,"v":0.44},{"s":"EMHD-hi","t":2569,"v":0.47},{"s":"EMHD-hi","t":2587,"v":0.46},{"s":"EMHD-hi","t":2605,"v":0.52},{"s":"EMHD-hi","t":2623,"v":0.55},{"s":"EMHD-hi","t":2640,"v":0.51},{"s":"EMHD-hi","t":2658,"v":0.52},{"s":"EMHD-hi","t":2676,"v":0.49},{"s":"EMHD-hi","t":2694,"v":0.46},{"s":"EMHD-hi","t":2712,"v":0.5},{"s":"EMHD-hi","t":2730,"v":0.49},{"s":"EMHD-hi","t":2748,"v":0.45},{"s":"EMHD-hi","t":2766,"v":0.43},{"s":"EMHD-hi","t":2784,"v":0.47},{"s":"EMHD-hi","t":2802,"v":0.49},{"s":"EMHD-hi","t":2820,"v":0.44},{"s":"EMHD-hi","t":2837,"v":0.4},{"s":"EMHD-hi","t":2855,"v":0.48},{"s":"EMHD-hi","t":2873,"v":0.55},{"s":"EMHD-hi","t":2891,"v":0.5},{"s":"EMHD-hi","t":2909,"v":0.46},{"s":"EMHD-hi","t":2927,"v":0.42},{"s":"EMHD-hi","t":2945,"v":0.38},{"s":"EMHD-hi","t":2963,"v":0.45},{"s":"EMHD-hi","t":2980,"v":0.49},{"s":"EMHD-hi","t":2997,"v":0.55},{"s":"EMHD-hi","t":3016,"v":0.5},{"s":"EMHD-hi","t":3033,"v":0.46},{"s":"EMHD-hi","t":3052,"v":0.58},{"s":"EMHD-hi","t":3069,"v":0.65},{"s":"EMHD-hi","t":3087,"v":0.6},{"s":"EMHD-hi","t":3104,"v":0.55},{"s":"EMHD-hi","t":3122,"v":0.61},{"s":"EMHD-hi","t":3140,"v":0.65},{"s":"EMHD-hi","t":3158,"v":0.58},{"s":"EMHD-hi","t":3176,"v":0.52},{"s":"EMHD-hi","t":3194,"v":0.55},{"s":"EMHD-hi","t":3212,"v":0.54},{"s":"EMHD-hi","t":3230,"v":0.6},{"s":"EMHD-hi","t":3248,"v":0.63},{"s":"EMHD-hi","t":3265,"v":0.7},{"s":"EMHD-hi","t":3283,"v":0.74},{"s":"EMHD-hi","t":3301,"v":0.73},{"s":"EMHD-hi","t":3319,"v":0.71},{"s":"EMHD-hi","t":3337,"v":0.68},{"s":"EMHD-hi","t":3355,"v":0.66},{"s":"EMHD-hi","t":3373,"v":0.7},{"s":"EMHD-hi","t":3391,"v":0.68},{"s":"EMHD-hi","t":3409,"v":0.74},{"s":"EMHD-hi","t":3427,"v":0.8},{"s":"EMHD-hi","t":3445,"v":0.76},{"s":"EMHD-hi","t":3462,"v":0.71},{"s":"EMHD-hi","t":3480,"v":0.68},{"s":"EMHD-hi","t":3498,"v":0.66},{"s":"EMHD-hi","t":3516,"v":0.7},{"s":"EMHD-hi","t":3534,"v":0.74},{"s":"EMHD-hi","t":3552,"v":0.71},{"s":"EMHD-hi","t":3570,"v":0.68},{"s":"EMHD-hi","t":3588,"v":0.7},{"s":"EMHD-hi","t":3606,"v":0.71},{"s":"EMHD-hi","t":3624,"v":0.73},{"s":"EMHD-hi","t":3641,"v":0.74},{"s":"EMHD-hi","t":3659,"v":0.76},{"s":"EMHD-hi","t":3677,"v":0.77},{"s":"EMHD-hi","t":3695,"v":0.85},{"s":"EMHD-hi","t":3713,"v":0.96},{"s":"EMHD-hi","t":3731,"v":0.95},{"s":"EMHD-hi","t":3749,"v":0.94},{"s":"EMHD-hi","t":3767,"v":0.92},{"s":"EMHD-hi","t":3785,"v":0.91},{"s":"EMHD-hi","t":3803,"v":0.89},{"s":"EMHD-hi","t":3820,"v":0.87},{"s":"EMHD-hi","t":3838,"v":0.91},{"s":"EMHD-hi","t":3856,"v":0.95},{"s":"EMHD-hi","t":3874,"v":0.91},{"s":"EMHD-hi","t":3892,"v":0.87},{"s":"EMHD-hi","t":3910,"v":0.85},{"s":"EMHD-hi","t":3928,"v":0.83},{"s":"EMHD-hi","t":3946,"v":0.85},{"s":"EMHD-hi","t":3963,"v":0.87},{"s":"EMHD-hi","t":3981,"v":0.82},{"s":"EMHD-hi","t":3999,"v":0.8},{"s":"EMHD-hi","t":4017,"v":0.84},{"s":"EMHD-hi","t":4035,"v":0.8},{"s":"EMHD-hi","t":4053,"v":0.76},{"s":"EMHD-hi","t":4071,"v":0.72},{"s":"EMHD-hi","t":4087,"v":0.7},{"s":"EMHD-hi","t":4104,"v":0.68},{"s":"EMHD-hi","t":4122,"v":0.7},{"s":"EMHD-hi","t":4140,"v":0.69},{"s":"EMHD-hi","t":4158,"v":0.66},{"s":"EMHD-hi","t":4176,"v":0.68},{"s":"EMHD-hi","t":4194,"v":0.7},{"s":"EMHD-hi","t":4212,"v":0.71},{"s":"EMHD-hi","t":4230,"v":0.66},{"s":"EMHD-hi","t":4247,"v":0.63},{"s":"EMHD-hi","t":4265,"v":0.62},{"s":"EMHD-hi","t":4283,"v":0.615},{"s":"EMHD-hi","t":4301,"v":0.64},{"s":"EMHD-hi","t":4319,"v":0.65},{"s":"EMHD-hi","t":4337,"v":0.63},{"s":"EMHD-hi","t":4355,"v":0.65},{"s":"EMHD-hi","t":4373,"v":0.67},{"s":"EMHD-hi","t":4391,"v":0.68},{"s":"EMHD-hi","t":4409,"v":0.7},{"s":"EMHD-hi","t":4427,"v":0.71},{"s":"EMHD-hi","t":4445,"v":0.73},{"s":"EMHD-hi","t":4462,"v":0.725},{"s":"EMHD-hi","t":4480,"v":0.75},{"s":"EMHD-hi","t":4498,"v":0.77},{"s":"EMHD-hi","t":4516,"v":0.88},{"s":"EMHD-hi","t":4534,"v":0.99},{"s":"EMHD-hi","t":4552,"v":0.97},{"s":"EMHD-hi","t":4570,"v":0.96},{"s":"EMHD-hi","t":4588,"v":0.95},{"s":"EMHD-hi","t":4606,"v":0.94},{"s":"EMHD-hi","t":4624,"v":0.92},{"s":"EMHD-hi","t":4641,"v":0.9},{"s":"EMHD-hi","t":4659,"v":1.05},{"s":"EMHD-hi","t":4677,"v":1.16},{"s":"EMHD-hi","t":4695,"v":1.08},{"s":"EMHD-hi","t":4713,"v":1.02},{"s":"EMHD-hi","t":4731,"v":0.93},{"s":"EMHD-hi","t":4749,"v":0.87},{"s":"EMHD-hi","t":4767,"v":0.88},{"s":"EMHD-hi","t":4785,"v":0.9},{"s":"EMHD-hi","t":4803,"v":1.05},{"s":"EMHD-hi","t":4820,"v":1.16},{"s":"EMHD-hi","t":4838,"v":1.1},{"s":"EMHD-hi","t":4856,"v":1.05},{"s":"EMHD-hi","t":4874,"v":0.98},{"s":"EMHD-hi","t":4892,"v":0.93},{"s":"EMHD-hi","t":4910,"v":0.9},{"s":"EMHD-hi","t":4928,"v":0.87},{"s":"EMHD-hi","t":4945,"v":0.93},{"s":"EMHD-hi","t":4963,"v":0.99},{"s":"EMHD-hi","t":4981,"v":0.94},{"s":"EMHD-hi","t":4999,"v":0.9},{"s":"EMHD-hi","t":5017,"v":0.97},{"s":"EMHD-hi","t":5035,"v":0.93},{"s":"EMHD-hi","t":5053,"v":0.87},{"s":"EMHD-hi","t":5071,"v":0.85},{"s":"EMHD-hi","t":5090,"v":0.82},{"s":"EMHD-hi","t":5120,"v":0.83},{"s":"EMHD-hi","t":5140,"v":0.81},{"s":"EMHD-hi","t":5156,"v":0.8},{"s":"EMHD-hi","t":5175,"v":0.82},{"s":"EMHD-hi","t":5192,"v":0.79},{"s":"EMHD-hi","t":5210,"v":0.8},{"s":"EMHD-hi","t":5228,"v":0.82},{"s":"EMHD-hi","t":5245,"v":0.84},{"s":"EMHD-hi","t":5263,"v":0.87},{"s":"EMHD-hi","t":5281,"v":0.83},{"s":"EMHD-hi","t":5299,"v":0.8},{"s":"EMHD-hi","t":5317,"v":0.78},{"s":"EMHD-hi","t":5335,"v":0.77},{"s":"EMHD-hi","t":5353,"v":0.76},{"s":"EMHD-hi","t":5371,"v":0.74},{"s":"EMHD-hi","t":5389,"v":0.7},{"s":"EMHD-hi","t":5407,"v":0.68},{"s":"EMHD-hi","t":5425,"v":0.66},{"s":"EMHD-hi","t":5442,"v":0.725},{"s":"EMHD-hi","t":5460,"v":0.7},{"s":"EMHD-hi","t":5478,"v":0.71},{"s":"EMHD-hi","t":5496,"v":0.73},{"s":"EMHD-hi","t":5514,"v":0.74},{"s":"EMHD-hi","t":5532,"v":0.76},{"s":"EMHD-hi","t":5550,"v":0.77},{"s":"EMHD-hi","t":5568,"v":0.82},{"s":"EMHD-hi","t":5586,"v":0.87},{"s":"EMHD-hi","t":5604,"v":0.9},{"s":"EMHD-hi","t":5621,"v":0.93},{"s":"EMHD-hi","t":5639,"v":1.0},{"s":"EMHD-hi","t":5657,"v":1.07},{"s":"EMHD-hi","t":5675,"v":1.04},{"s":"EMHD-hi","t":5693,"v":1.02},{"s":"EMHD-hi","t":5711,"v":0.99},{"s":"EMHD-hi","t":5729,"v":0.975},{"s":"EMHD-hi","t":5747,"v":0.94},{"s":"EMHD-hi","t":5765,"v":0.91},{"s":"EMHD-hi","t":5783,"v":0.93},{"s":"EMHD-hi","t":5800,"v":0.94},{"s":"EMHD-hi","t":5818,"v":0.97},{"s":"EMHD-hi","t":5836,"v":0.99},{"s":"EMHD-hi","t":5854,"v":0.95},{"s":"EMHD-hi","t":5872,"v":1.04},{"s":"EMHD-hi","t":5890,"v":0.9},{"s":"EMHD-hi","t":5908,"v":0.87},{"s":"EMHD-hi","t":5926,"v":0.9},{"s":"EMHD-hi","t":5944,"v":0.93},{"s":"EMHD-hi","t":5962,"v":0.86},{"s":"EMHD-hi","t":5979,"v":0.82},{"s":"EMHD-hi","t":6000,"v":0.8}
  ]},
  "resolve": {"axis": {"x": "independent", "y": "independent"}},
  "layer": [
    {
      "mark": {"type": "line", "clip": true, "strokeCap": "butt", "strokeJoin": "miter"},
      "encoding": {
        "x": {"field": "t", "type": "quantitative", "scale": {"domain": [0, 6000], "nice": false, "zero": false},
          "axis": {"orient": "bottom", "values": [0, 2000, 4000, 6000], "format": "d", "tickSize": -8, "tickWidth": 2, "labelPadding": 16, "labelFont": "Liberation Serif", "labelFontSize": 25, "labelFontWeight": "normal", "labelFlush": false, "title": "t/tg", "titleFont": "Liberation Serif", "titleFontSize": 32, "titleFontStyle": "italic", "titleFontWeight": "normal", "titlePadding": 0}},
        "y": {"field": "v", "type": "quantitative", "scale": {"domain": [0, 1.31], "nice": false, "zero": false},
          "axis": {"orient": "left", "values": [0, 0.5, 1], "format": "~g", "tickSize": -9, "tickWidth": 2, "labelPadding": 19, "labelFont": "Liberation Serif", "labelFontSize": 25, "labelFontWeight": "normal", "labelFlush": false, "title": "Ṁᵢₙ", "titleFont": "Liberation Serif", "titleFontSize": 34, "titleFontStyle": "italic", "titleFontWeight": "normal", "titlePadding": 4}},
        "color": {"field": "s", "type": "nominal",
          "scale": {"domain": ["IMHD-low", "IMHD-hi", "EMHD-low", "EMHD-hi"], "range": ["#6d0e51", "#6d0e51", "#76aadd", "#76aadd"]},
          "legend": {"title": null, "orient": "none", "legendX": 22, "legendY": 12, "padding": 0, "symbolType": "stroke", "symbolSize": 900, "symbolStrokeWidth": 2.6, "labelFontSize": 21, "labelOffset": 18, "rowPadding": -1.5, "labelFont": "Liberation Serif", "labelColor": "#000000"}},
        "strokeDash": {"field": "s", "type": "nominal",
          "scale": {"domain": ["IMHD-low", "IMHD-hi", "EMHD-low", "EMHD-hi"], "range": [[6, 4], [1, 0], [6, 4], [1, 0]]},
          "legend": {"title": null, "orient": "none", "legendX": 22, "legendY": 12, "padding": 0, "symbolType": "stroke", "symbolSize": 900, "symbolStrokeWidth": 2.6, "labelFontSize": 21, "labelOffset": 18, "rowPadding": -1.5, "labelFont": "Liberation Serif", "labelColor": "#000000"}},
        "strokeWidth": {"field": "s", "type": "nominal", "legend": null,
          "scale": {"domain": ["IMHD-low", "IMHD-hi", "EMHD-low", "EMHD-hi"], "range": [2.6, 3.2, 2.6, 2.7]}}
      }
    },
    {
      "mark": {"type": "line", "opacity": 0},
      "encoding": {
        "x": {"field": "t", "type": "quantitative", "axis": {"orient": "bottom", "values": [500, 1000, 1500, 2500, 3000, 3500, 4500, 5000, 5500], "labels": false, "domain": false, "tickSize": -4, "tickWidth": 1.5, "title": null}},
        "y": {"field": "v", "type": "quantitative", "axis": {"orient": "left", "values": [0.1, 0.2, 0.3, 0.4, 0.6, 0.7, 0.8, 0.9, 1.1, 1.2], "labels": false, "domain": false, "tickSize": -4, "tickWidth": 1.5, "title": null}}
      }
    },
    {
      "mark": {"type": "line", "opacity": 0},
      "encoding": {
        "x": {"field": "t", "type": "quantitative", "axis": {"orient": "top", "values": [0, 2000, 4000, 6000], "labels": false, "tickSize": -8, "tickWidth": 2, "title": null}},
        "y": {"field": "v", "type": "quantitative", "axis": {"orient": "right", "values": [0, 0.5, 1], "labels": false, "tickSize": -9, "tickWidth": 2, "title": null}}
      }
    },
    {
      "mark": {"type": "line", "opacity": 0},
      "encoding": {
        "x": {"field": "t", "type": "quantitative", "axis": {"orient": "top", "values": [500, 1000, 1500, 2500, 3000, 3500, 4500, 5000, 5500], "labels": false, "domain": false, "tickSize": -4, "tickWidth": 1.5, "title": null}},
        "y": {"field": "v", "type": "quantitative", "axis": {"orient": "right", "values": [0.1, 0.2, 0.3, 0.4, 0.6, 0.7, 0.8, 0.9, 1.1, 1.2], "labels": false, "domain": false, "tickSize": -4, "tickWidth": 1.5, "title": null}}
      }
    }
  ]
}
